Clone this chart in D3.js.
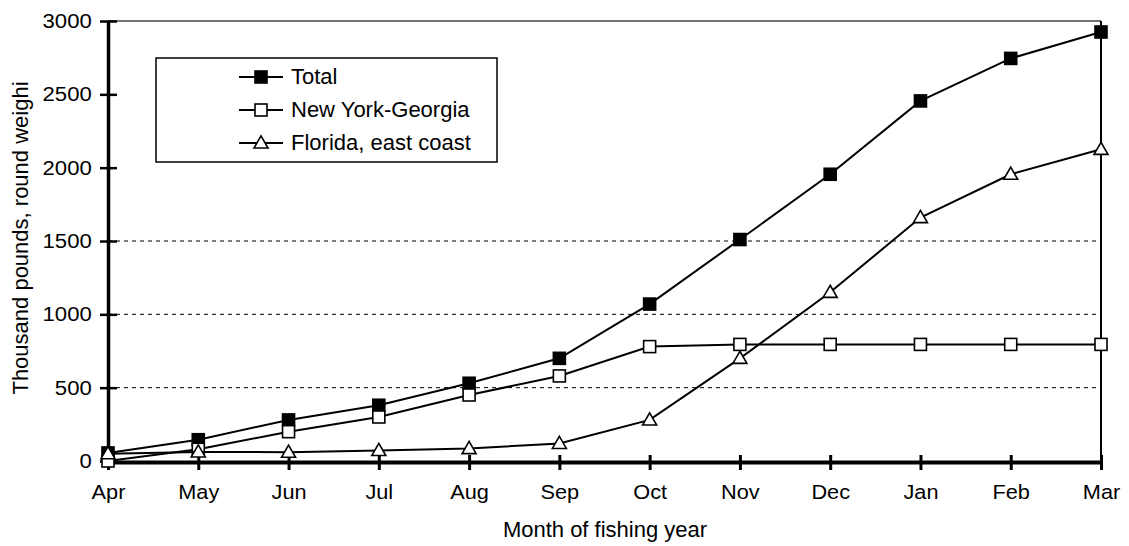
<!DOCTYPE html>
<html><head><meta charset="utf-8">
<script src="https://cdn.jsdelivr.net/npm/d3@7"></script>
<style>
html,body{margin:0;padding:0;background:#fff;}
svg{display:block;font-family:"Liberation Sans",Arial,sans-serif;}
</style></head>
<body><svg id="c" width="1129" height="546"></svg>
<script>
const months = ["Apr","May","Jun","Jul","Aug","Sep","Oct","Nov","Dec","Jan","Feb","Mar"];
const totalValues = [55,145,280,380,530,700,1070,1510,1955,2455,2745,2925];
const nyGaValues = [0,80,200,300,450,580,780,795,795,795,795,795];
const floridaValues = [50,62,60,72,85,120,280,700,1150,1660,1955,2125];
const yTicks = [0,500,1000,1500,2000,2500,3000];
const gridValues = [500,1000,1500];
const seriesNames = ["Total","New York-Georgia","Florida, east coast"];

const svg = d3.select("#c");
const x = d3.scalePoint().domain(months).range([108,1101]);
const y = d3.scaleLinear().domain([0,3000]).range([461,21]);

// gridlines
svg.append("g").selectAll("line").data(gridValues).join("line")
  .attr("x1",108).attr("x2",1096).attr("y1",d=>y(d)).attr("y2",d=>y(d))
  .attr("stroke","#000").attr("stroke-width",1).attr("stroke-dasharray","4,4");

// top and right border
svg.append("line").attr("x1",108).attr("x2",1101).attr("y1",y(3000)).attr("y2",y(3000))
  .attr("stroke","#444").attr("stroke-width",1.5);
svg.append("line").attr("x1",1101).attr("x2",1101).attr("y1",y(3000)).attr("y2",y(0))
  .attr("stroke","#000").attr("stroke-width",2);

// y axis
const yAxis = svg.append("g").attr("transform","translate(108,0)")
  .call(d3.axisLeft(y).tickValues(yTicks).tickFormat(d3.format("d")).tickSize(0).tickPadding(15));
yAxis.select(".domain").attr("stroke","#000").attr("stroke-width",3.5);
yAxis.selectAll(".tick line").attr("x1",-8).attr("x2",9).attr("stroke","#000").attr("stroke-width",2.5);
yAxis.selectAll(".tick text").attr("font-size",20.5).attr("fill","#000")
  .attr("font-family","Liberation Sans, Arial, sans-serif").attr("transform","scale(1.08,1)");

// x axis
const xAxis = svg.append("g").attr("transform","translate(0,462)")
  .call(d3.axisBottom(x).tickSize(0).tickPadding(22));
xAxis.select(".domain").attr("stroke","#000").attr("stroke-width",4);
xAxis.selectAll(".tick line").attr("y1",-7).attr("y2",8).attr("stroke","#000").attr("stroke-width",3);
xAxis.selectAll(".tick text").attr("font-size",20.5).attr("fill","#000")
  .attr("font-family","Liberation Sans, Arial, sans-serif").attr("transform","scale(1.06,1)");

// titles
svg.append("text").attr("x",605).attr("y",537).attr("text-anchor","middle")
  .attr("font-size",22).text("Month of fishing year");
svg.append("text").attr("transform","translate(28,238) rotate(-90)").attr("text-anchor","middle")
  .attr("font-size",22).text("Thousand pounds, round weighi");

const line = d3.line().x((d,i)=>x(months[i])).y(d=>y(d));
const tri = d3.symbol().type(d3.symbolTriangle).size(85);

function drawSeries(vals, kind){
  const g = svg.append("g");
  g.append("path").datum(vals).attr("d",line).attr("fill","none").attr("stroke","#000").attr("stroke-width",2);
  drawMarkers(g, vals.map((v,i)=>[x(months[i]), y(v)]), kind);
}
function drawMarkers(g, pts, kind){
  if(kind==="tri"){
    g.selectAll("path.m").data(pts).join("path").attr("class","m")
      .attr("d",tri).attr("transform",d=>`translate(${d[0]},${d[1]+1})`)
      .attr("fill","#fff").attr("stroke","#000").attr("stroke-width",1.6);
  } else {
    const s = 12;
    g.selectAll("rect.m").data(pts).join("rect").attr("class","m")
      .attr("x",d=>d[0]-s/2).attr("y",d=>d[1]-s/2).attr("width",s).attr("height",s)
      .attr("fill",kind==="filled"?"#000":"#fff").attr("stroke","#000").attr("stroke-width",1.6);
  }
}
drawSeries(totalValues,"filled");
drawSeries(nyGaValues,"open");
drawSeries(floridaValues,"tri");

// legend
const lg = svg.append("g");
lg.append("rect").attr("x",156).attr("y",58).attr("width",341).attr("height",104)
  .attr("fill","#fff").attr("stroke","#000").attr("stroke-width",1.5);
const kinds = ["filled","open","tri"];
seriesNames.forEach((name,i)=>{
  const cy = 77 + i*33;
  lg.append("line").attr("x1",239).attr("x2",283).attr("y1",cy).attr("y2",cy).attr("stroke","#000").attr("stroke-width",2);
  drawMarkers(lg.append("g"), [[261,cy]], kinds[i]);
  lg.append("text").attr("x",291).attr("y",cy+7).attr("font-size",22).text(name);
});
</script></body></html>
